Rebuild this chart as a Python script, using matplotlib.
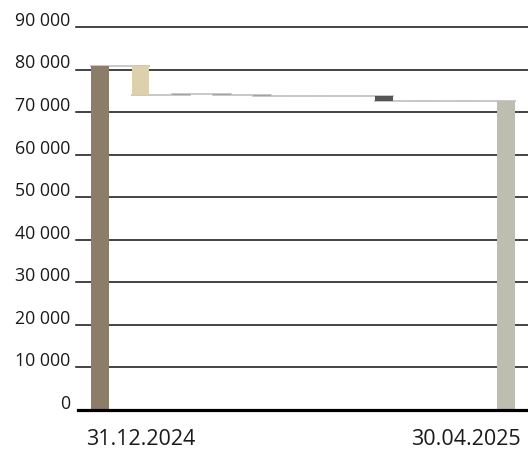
import matplotlib
matplotlib.use("Agg")
import matplotlib.pyplot as plt
import numpy as np

plt.rcParams["font.family"] = ["Open Sans", "DejaVu Sans"]

# waterfall: start value, changes, end value
categories = ["31.12.2024", "c1", "c2", "c3", "c4", "c5", "c6", "c7", "c8", "c9", "30.04.2025"]
start_value = 80800
changes = [-6800, 200, -200, -200, -100, 100, -1100, -100, 0]
end_value = 72600
bar_colors = ["#8b7d68", "#ddd0ad", "#a3a3a3", "#a3a3a3", "#a3a3a3", "#a3a3a3",
              "#a3a3a3", "#555555", "#a3a3a3", "#a3a3a3", "#bebeb0"]
y_ticks = [0, 10000, 20000, 30000, 40000, 50000, 60000, 70000, 80000, 90000]
x_labels = {1: "31.12.2024", 9: "30.04.2025"}


def fmt(v):
    return f"{v:,}".replace(",", " ")


fig = plt.figure(figsize=(5.28, 4.54), dpi=100)
ax = fig.add_axes([78 / 528, 44 / 454, 450 / 528, 383 / 454])

x = np.arange(len(categories))
w = 0.44

levels = [start_value]
for c in changes:
    levels.append(levels[-1] + c)

bottoms = [0]
heights = [start_value]
for i, c in enumerate(changes):
    lo = min(levels[i], levels[i + 1])
    hi = max(levels[i], levels[i + 1])
    h = max(hi - lo, 120)
    bottoms.append(lo)
    heights.append(h)
bottoms.append(0)
heights.append(end_value)

for yv in y_ticks[1:]:
    ax.plot([-0.6, 10.6], [yv, yv], color="#111111", lw=1.1, zorder=1, clip_on=False)

ax.bar(x, heights, bottom=bottoms, width=w, color=bar_colors, zorder=3)

# connectors
for i in range(len(levels)):
    ax.plot([x[i] - w / 2, x[i + 1] + w / 2], [levels[i], levels[i]],
            color="#c8c8c8", lw=1.4, zorder=2)

ax.plot([-0.54, 10.54], [0, 0], color="#000000", lw=2.3, zorder=4, clip_on=False)

ax.set_xlim(-0.54, 10.54)
ax.set_ylim(0, 90000)
for s in ax.spines.values():
    s.set_visible(False)
ax.set_yticks([])
for yv in y_ticks:
    ax.text(-0.74, yv + 250, fmt(yv), ha="right", va="baseline", fontsize=12.8,
            color="#1a1a1a")

ax.set_xticks(list(x_labels.keys()), list(x_labels.values()), fontsize=15.5,
              color="#1a1a1a")
ax.tick_params(axis="x", length=0, pad=14)

fig.savefig("out.png", dpi=100)
